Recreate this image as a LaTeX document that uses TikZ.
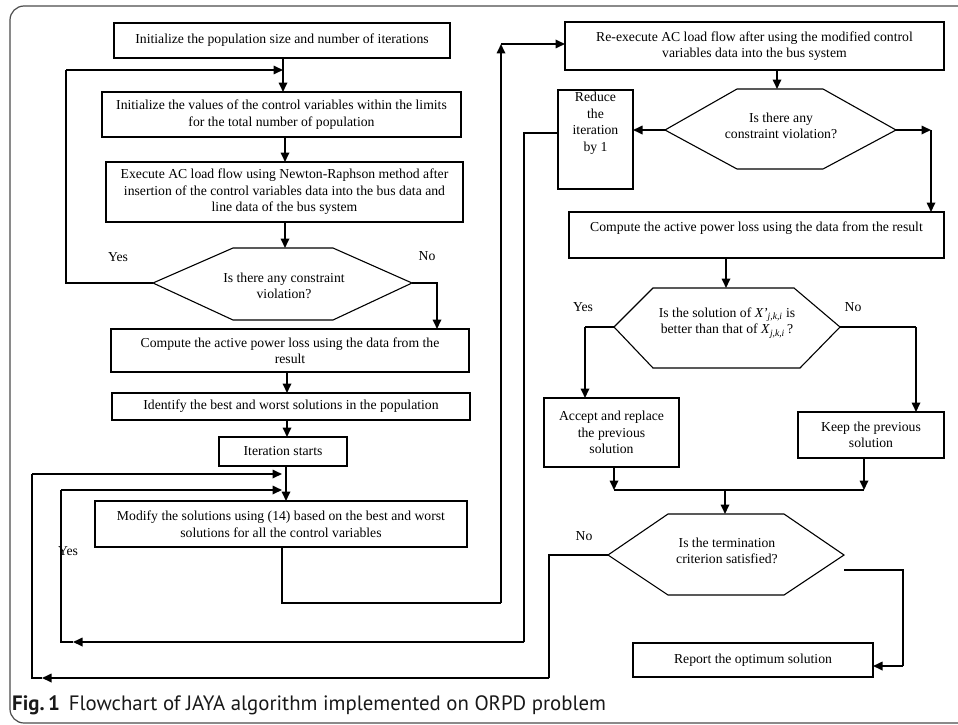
\documentclass[tikz,border=0pt]{standalone}
\usepackage{fontspec}
\setmainfont{Liberation Serif}
\newfontfamily\capfont{PT Sans}
\usetikzlibrary{arrows.meta}
\begin{document}
\begin{tikzpicture}[x=1pt,y=-1pt,
  txt/.style={inner sep=0pt, align=center, font=\fontsize{13.7}{16.5}\selectfont},
  box/.style={draw, line width=1.2pt, inner sep=0pt, outer sep=0pt, align=center, font=\fontsize{13.7}{16.5}\selectfont},
  hexa/.style={draw, line width=1.1pt, line join=miter},
  conn/.style={draw, line width=1.7pt},
  arr/.style={conn, -{Triangle[length=9.5pt,width=8.5pt]}},
  lab/.style={inner sep=0pt, font=\fontsize{13.7}{15}\selectfont}]
\useasboundingbox (0,0) rectangle (958,725);
\clip (0,0) rectangle (958,725);
\draw[line width=1.2pt, black!70, rounded corners=14pt] (10,6) rectangle (1000,723);

% ---------- left column ----------
\node[box, minimum width=336pt, minimum height=35pt] (b1) at (282,40.5) {Initialize the population size and number of iterations};
\node[box, minimum width=359pt, minimum height=45pt] (b2) at (281.5,114.5) {Initialize the values of the control variables within the limits\\for the total number of population};
\node[box, minimum width=357pt, minimum height=60pt] (b3) at (284.5,192) {Execute AC load flow using Newton-Raphson method after\\insertion of the control variables data into the bus data and\\line data of the bus system};
% hexagon D1
\coordinate (d1l) at (153,283); \coordinate (d1r) at (412,283);
\draw[hexa] (d1l) -- (233,248) -- (333,248) -- (d1r) -- (333,320) -- (233,320) -- cycle;
\node[txt] (d1) at (284,286) {Is there any constraint\\violation?};
\node[box, minimum width=358pt, minimum height=43pt] (b4) at (290,350.5) {Compute the active power loss using the data from the\\result};
\node[box, minimum width=358pt, minimum height=27pt] (b5) at (291,406.5) {Identify the best and worst solutions in the population};
\node[box, minimum width=128pt, minimum height=29pt] (b6) at (283,451.5) {Iteration starts};
\node[box, minimum width=372pt, minimum height=46pt] (b7) at (281,524) {Modify the solutions using (14) based on the best and worst\\solutions for all the control variables};

\node[lab] (yes1) at (118,257) {Yes};
\node[lab] (no1) at (427,256) {No};
\node[lab] (yes4) at (68,551) {Yes};

% ---------- right column ----------
\node[box, minimum width=379pt, minimum height=48pt] (b8) at (754.5,46) {Re-execute AC load flow after using the modified control\\variables data into the bus system};
\coordinate (d2l) at (665,130); \coordinate (d2r) at (896,130);
\draw[hexa] (d2l) -- (737,89) -- (823,89) -- (d2r) -- (823,169) -- (737,169) -- cycle;
\node[txt] (d2) at (781,126) {Is there any\\constraint violation?};
\node[box, minimum width=75pt, minimum height=99pt] (red) at (595.5,139.5) {};
\node[txt] (redt) at (595.5,123) {Reduce\\the\\iteration\\by 1};
\node[box, minimum width=375pt, minimum height=46pt] (b9) at (756.5,235) {};
\node[txt] (b9t) at (756.5,228) {Compute the active power loss using the data from the result};
\coordinate (d3l) at (614,327); \coordinate (d3r) at (840,327);
\draw[hexa] (d3l) -- (653,288) -- (794,288) -- (d3r) -- (800,368) -- (653,368) -- cycle;
\node[txt] (d3) at (727,323) {Is the solution of \textit{X'}\textsubscript{\textit{j,k,i}} is\\better than that of \textit{X}\textsubscript{\textit{j,k,i}}\,?};
\node[lab] (yes3) at (583,307) {Yes};
\node[lab] (no3) at (853,307) {No};
\node[box, minimum width=135pt, minimum height=69pt] (acc) at (611.5,432.5) {Accept and replace\\the previous\\solution};
\node[box, minimum width=146pt, minimum height=46pt] (keep) at (871,435) {Keep the previous\\solution};
\coordinate (d4l) at (608,555); \coordinate (d4r) at (844,555);
\draw[hexa] (d4l) -- (668,514) -- (784,514) -- (d4r) -- (784,595) -- (668,595) -- cycle;
\node[txt] (d4) at (727,551) {Is the termination\\criterion satisfied?};
\node[lab] (no4) at (584,536) {No};
\node[box, minimum width=240pt, minimum height=34pt] (rep) at (753,660) {Report the optimum solution};

% ---------- connectors ----------
\coordinate (c1) at (283,70);
\draw[arr] (b1.south -| c1) -- (b2.north -| c1);
\draw[conn] (d1l) -- (66,283) -- (66,70);
\draw[arr] (66,70) -- (c1);
\draw[arr] (b2.south -| 285,0) -- (b3.north -| 285,0);
\draw[arr] (b3.south -| 285,0) -- (285,248);
\draw[arr] (d1r) -- (437,283) -- (b4.north -| 437,0);
\draw[arr] (b4.south -| 287,0) -- (b5.north -| 287,0);
\draw[arr] (b5.south -| 287,0) -- (b6.north -| 287,0);
\draw[arr] (b6.south -| 286,0) -- (b7.north -| 286,0);

% B7 -> B8
\coordinate (m1) at (501,603);
\draw[conn] (b7.south -| 282,0) -- (282,603) -- (m1);
\draw[arr] (m1) -- (501,44);
\draw[arr] (501,44) -- (b8.west |- 0,44);

% B8 -> D2
\draw[arr] (b8.south -| 777,0) -- (777,89);
\draw[arr] (d2l) -- (red.east |- d2l);
\draw[arr] (d2r) -- (931,130);
\draw[arr] (931,130) -- (b9.north -| 931,0);
% reduce -> inner loop
\coordinate (i1) at (73,642);
\draw[conn] (red.west |- 0,133) -- (524,133) -- (524,642);
\draw[arr] (524,642) -- (i1);
\draw[conn] (i1) -- (61,642) -- (61,490);
\draw[arr] (61,490) -- (282,490);

% B9 -> D3
\draw[arr] (b9.south -| 726,0) -- (726,288);
\draw[conn] (d3l) -- (585,327);
\draw[arr] (585,327) -- (acc.north -| 585,0);
\draw[conn] (d3r) -- (916,327);
\draw[arr] (916,327) -- (keep.north -| 916,0);
\draw[arr] (acc.south -| 614,0) -- (614,490);
\draw[arr] (keep.south -| 864,0) -- (864,490);
\draw[conn] (614,490) -- (864,490);
\draw[arr] (725,490) -- (725,514);

% D4 branches
\coordinate (o1) at (42,678);
\draw[conn] (d4l) -- (549,555) -- (549,678);
\draw[arr] (549,678) -- (o1);
\draw[conn] (o1) -- (32,678) -- (32,474);
\draw[arr] (32,474) -- (282,474);
\draw[conn] (844,570) -- (903,570) -- (903,666);
\draw[arr] (903,666) -- (rep.east |- 0,666);

% caption
\node[anchor=base west, inner sep=0pt, text=black!90] (cap) at (12,710) {\capfont\fontsize{20.8}{21}\selectfont\textbf{Fig.\,1}\hspace{9pt}Flowchart of JAYA algorithm implemented on ORPD problem};
\end{tikzpicture}
\end{document}
